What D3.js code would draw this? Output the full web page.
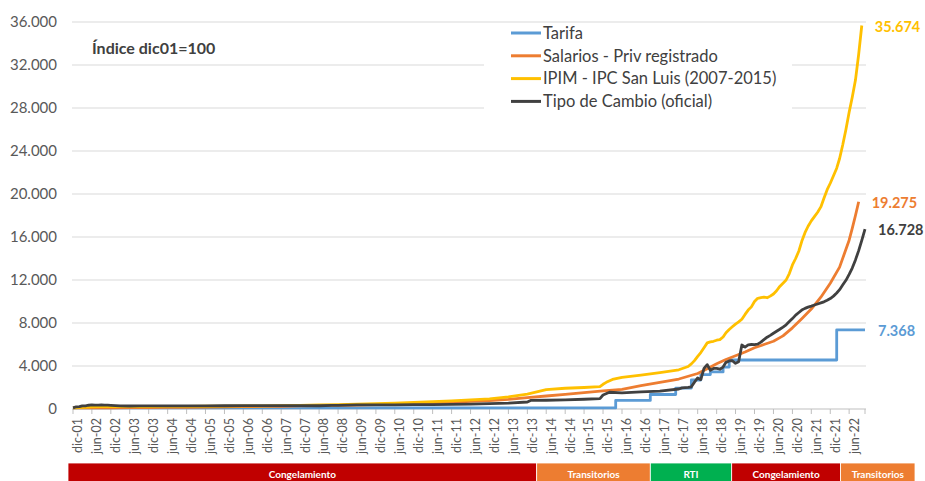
<!DOCTYPE html>
<html>
<head>
<meta charset="utf-8">
<script src="https://cdn.jsdelivr.net/npm/d3@7"></script>
<style>
  body { margin: 0; background: #fff; }
  svg { display: block; font-family: Lato, "Open Sans", sans-serif; }
</style>
</head>
<body>
<svg id="chart"></svg>
<script>
// series: [month, index value (dic01 = 100)]
const tarifa = [
    ["2001-12", 100], ["2016-04", 800], ["2017-03", 1350], ["2017-11", 1950],
    ["2018-04", 2700], ["2018-07", 3200], ["2018-10", 3450], ["2019-02", 3900],
    ["2019-04", 4560], ["2022-02", 7368], ["2022-11", 7368]
];

const salarios = [
    ["2001-12", 100], ["2002-06", 103], ["2002-12", 112], ["2003-06", 125], ["2003-12", 140],
    ["2004-06", 150], ["2004-12", 162], ["2005-06", 180], ["2005-12", 197], ["2006-06", 215],
    ["2006-12", 237], ["2007-06", 258], ["2007-12", 285], ["2008-06", 318], ["2008-12", 345],
    ["2009-06", 370], ["2009-12", 400], ["2010-06", 445], ["2010-12", 490], ["2011-06", 555],
    ["2011-12", 615], ["2012-06", 700], ["2012-12", 790], ["2013-06", 900], ["2013-12", 1050],
    ["2014-06", 1210], ["2014-12", 1360], ["2015-06", 1520], ["2015-12", 1690], ["2016-06", 1830],
    ["2016-12", 2180], ["2017-06", 2480], ["2017-12", 2790], ["2018-06", 3300], ["2018-09", 3750],
    ["2018-12", 4200], ["2019-03", 4600], ["2019-06", 4950], ["2019-09", 5300], ["2019-12", 5700],
    ["2020-03", 6000], ["2020-06", 6300], ["2020-09", 6800], ["2020-12", 7550], ["2021-03", 8400],
    ["2021-06", 9300], ["2021-09", 10400], ["2021-12", 11700], ["2022-03", 13200], ["2022-06", 15700],
    ["2022-07", 16800], ["2022-08", 18000], ["2022-09", 19275]
];

const ipim = [
    ["2001-12", 100], ["2002-03", 160], ["2002-06", 205], ["2002-09", 215], ["2002-12", 220],
    ["2003-06", 222], ["2003-12", 225], ["2004-06", 235], ["2004-12", 245], ["2005-06", 258],
    ["2005-12", 270], ["2006-06", 282], ["2006-12", 292], ["2007-06", 310], ["2007-12", 340],
    ["2008-06", 380], ["2008-12", 410], ["2009-06", 450], ["2009-12", 490], ["2010-06", 550],
    ["2010-12", 610], ["2011-06", 680], ["2011-12", 760], ["2012-06", 840], ["2012-12", 950],
    ["2013-06", 1130], ["2013-12", 1380], ["2014-06", 1800], ["2014-12", 1930], ["2015-06", 2000],
    ["2015-11", 2080], ["2015-12", 2300], ["2016-01", 2480], ["2016-03", 2750], ["2016-06", 2950],
    ["2016-12", 3150], ["2017-06", 3380], ["2017-12", 3650], ["2018-03", 3950], ["2018-04", 4200],
    ["2018-05", 4500], ["2018-06", 4900], ["2018-07", 5250], ["2018-08", 5700], ["2018-09", 6150],
    ["2018-10", 6250], ["2018-11", 6300], ["2018-12", 6400], ["2019-01", 6450], ["2019-02", 6700],
    ["2019-03", 7100], ["2019-04", 7400], ["2019-05", 7650], ["2019-06", 7900], ["2019-07", 8100],
    ["2019-08", 8350], ["2019-09", 8800], ["2019-10", 9200], ["2019-11", 9500], ["2019-12", 10000],
    ["2020-01", 10300], ["2020-02", 10350], ["2020-03", 10400], ["2020-04", 10350], ["2020-05", 10500],
    ["2020-06", 10700], ["2020-07", 11000], ["2020-08", 11400], ["2020-09", 11700], ["2020-10", 12000],
    ["2020-11", 12600], ["2020-12", 13400], ["2021-01", 14000], ["2021-02", 14700], ["2021-03", 15600],
    ["2021-04", 16400], ["2021-05", 17000], ["2021-06", 17500], ["2021-07", 17900], ["2021-08", 18300],
    ["2021-09", 18800], ["2021-10", 19600], ["2021-11", 20400], ["2021-12", 21000], ["2022-01", 21700],
    ["2022-02", 22400], ["2022-03", 23300], ["2022-04", 24600], ["2022-05", 26000], ["2022-06", 27600],
    ["2022-07", 29000], ["2022-08", 30600], ["2022-09", 33000], ["2022-10", 35674]
];

const tipoCambio = [
    ["2001-12", 100], ["2002-01", 205], ["2002-02", 215], ["2002-03", 295], ["2002-04", 290],
    ["2002-05", 350], ["2002-06", 380], ["2002-07", 365], ["2002-08", 360], ["2002-09", 370],
    ["2002-10", 355], ["2002-11", 355], ["2002-12", 337], ["2003-03", 298], ["2003-06", 280],
    ["2003-09", 291], ["2003-12", 293], ["2004-06", 296], ["2004-12", 297], ["2005-06", 289],
    ["2005-12", 303], ["2006-06", 308], ["2006-12", 306], ["2007-06", 309], ["2007-12", 315],
    ["2008-06", 303], ["2008-10", 340], ["2008-12", 345], ["2009-06", 379], ["2009-12", 380],
    ["2010-06", 393], ["2010-12", 398], ["2011-06", 411], ["2011-12", 430], ["2012-06", 452],
    ["2012-12", 492], ["2013-06", 539], ["2013-12", 652], ["2014-01", 800], ["2014-06", 813],
    ["2014-12", 855], ["2015-06", 909], ["2015-11", 967], ["2015-12", 1300], ["2016-02", 1560],
    ["2016-06", 1500], ["2016-12", 1585], ["2017-06", 1660], ["2017-12", 1860], ["2018-01", 1970],
    ["2018-03", 2010], ["2018-04", 2060], ["2018-05", 2500], ["2018-06", 2890], ["2018-07", 2730],
    ["2018-08", 3770], ["2018-09", 4125], ["2018-10", 3600], ["2018-11", 3770], ["2018-12", 3770],
    ["2019-01", 3700], ["2019-02", 3900], ["2019-03", 4340], ["2019-04", 4470], ["2019-05", 4490],
    ["2019-06", 4250], ["2019-07", 4390], ["2019-08", 5950], ["2019-09", 5760], ["2019-10", 5970],
    ["2019-11", 6000], ["2019-12", 5990], ["2020-01", 6030], ["2020-02", 6220], ["2020-03", 6450],
    ["2020-04", 6680], ["2020-05", 6850], ["2020-06", 7050], ["2020-07", 7230], ["2020-08", 7420],
    ["2020-09", 7620], ["2020-10", 7830], ["2020-11", 8130], ["2020-12", 8410], ["2021-01", 8730],
    ["2021-02", 8980], ["2021-03", 9200], ["2021-04", 9360], ["2021-05", 9480], ["2021-06", 9570],
    ["2021-07", 9670], ["2021-08", 9770], ["2021-09", 9870], ["2021-10", 9970], ["2021-11", 10110],
    ["2021-12", 10270], ["2022-01", 10500], ["2022-02", 10790], ["2022-03", 11100], ["2022-04", 11550],
    ["2022-05", 11970], ["2022-06", 12520], ["2022-07", 13110], ["2022-08", 13870], ["2022-09", 14730],
    ["2022-10", 15690], ["2022-11", 16728]
];

const seriesNames = ["Tarifa", "Salarios - Priv registrado", "IPIM - IPC San Luis (2007-2015)", "Tipo de Cambio (oficial)"];
const yTicks = [0, 4000, 8000, 12000, 16000, 20000, 24000, 28000, 32000, 36000];

// regulatory periods shown in the bottom band
const periodLabels = ["Congelamiento", "Transitorios", "RTI", "Congelamiento", "Transitorios"];
const periodStarts = ["2001-12-01", "2014-03-01", "2017-03-01", "2019-04-25", "2022-03-10"];
const periodEnds = ["2014-03-01", "2017-03-01", "2019-04-25", "2022-03-10", "2022-11-01"];

const width = 925;
const height = 481;
const svg = d3.select("#chart")
    .attr("width", width)
    .attr("height", height);

const colors = ["#5B9BD5", "#ED7D31", "#FFC000", "#404040"];
const parseMonth = d3.timeParse("%Y-%m");
const parseDay = d3.timeParse("%Y-%m-%d");

const es = d3.timeFormatLocale({
    dateTime: "%x, %X", date: "%d/%m/%Y", time: "%H:%M:%S", periods: ["AM", "PM"],
    days: ["domingo", "lunes", "martes", "miércoles", "jueves", "viernes", "sábado"],
    shortDays: ["dom", "lun", "mar", "mié", "jue", "vie", "sáb"],
    months: ["enero", "febrero", "marzo", "abril", "mayo", "junio", "julio", "agosto", "septiembre", "octubre", "noviembre", "diciembre"],
    shortMonths: ["ene", "feb", "mar", "abr", "may", "jun", "jul", "ago", "sep", "oct", "nov", "dic"]
});
const fmtMonth = es.format("%b-%y");
const fmtNum = d3.formatLocale({ decimal: ",", thousands: ".", grouping: [3], currency: ["$", ""] }).format(",.0f");

const start = parseMonth("2001-12");
const end = parseMonth("2022-11");

const x = d3.scaleTime()
    .domain([start, end])
    .range([73, 865]);

const y = d3.scaleLinear()
    .domain([0, 36000])
    .range([409, 22]);

// gridlines + y labels
svg.append("g")
    .selectAll("line")
    .data(yTicks.slice(1))
    .enter()
    .append("line")
    .attr("x1", 72)
    .attr("x2", 866)
    .attr("y1", d => y(d))
    .attr("y2", d => y(d))
    .attr("stroke", "#d9d9d9")
    .attr("stroke-width", 1);

svg.append("g")
    .selectAll("text")
    .data(yTicks)
    .enter()
    .append("text")
    .attr("x", 57)
    .attr("y", d => y(d))
    .attr("dy", "0.35em")
    .attr("text-anchor", "end")
    .attr("fill", "#595959")
    .style("font-size", "15px")
    .text(d => fmtNum(d));

// x axis
const xTicks = d3.timeMonth.range(start, end, 6);
const xAxis = svg.append("g");
xAxis.append("line")
    .attr("x1", 72)
    .attr("x2", 866)
    .attr("y1", y(0))
    .attr("y2", y(0))
    .attr("stroke", "#bfbfbf");
xAxis.selectAll(".tick")
    .data(xTicks.concat([end]))
    .enter()
    .append("line")
    .attr("x1", d => x(d))
    .attr("x2", d => x(d))
    .attr("y1", y(0))
    .attr("y2", y(0) + 5)
    .attr("stroke", "#bfbfbf");
xAxis.selectAll("text")
    .data(xTicks)
    .enter()
    .append("text")
    .attr("transform", d => `translate(${x(d) + 5},418) rotate(-90)`)
    .attr("dy", "0.35em")
    .attr("text-anchor", "end")
    .attr("fill", "#595959")
    .style("font-size", "12.5px")
    .text(d => fmtMonth(d));

// legend box (hides gridlines behind it)
const legend = svg.append("g");
legend.append("rect")
    .attr("x", 484)
    .attr("y", 25)
    .attr("width", 308)
    .attr("height", 88)
    .attr("fill", "#fff");
seriesNames.forEach((name, i) => {
    const ly = 33 + i * 22.8;
    legend.append("line")
        .attr("x1", 511).attr("x2", 541)
        .attr("y1", ly).attr("y2", ly)
        .attr("stroke", colors[i])
        .attr("stroke-width", 3);
    legend.append("text")
        .attr("x", 543)
        .attr("y", ly)
        .attr("dy", "0.35em")
        .attr("fill", "#404040")
        .style("font-size", "16.5px")
        .text(name);
});

svg.append("text")
    .attr("x", 92)
    .attr("y", 48)
    .attr("dy", "0.35em")
    .attr("fill", "#404040")
    .style("font-size", "16px")
    .style("font-weight", "bold")
    .text("Índice dic01=100");

// lines
const allSeries = [tarifa, salarios, ipim, tipoCambio];
allSeries.forEach((s, i) => {
    const pts = s.map(d => ({ date: parseMonth(d[0]), value: d[1] }));
    const line = d3.line()
        .x(d => x(d.date))
        .y(d => y(d.value))
        .curve(i === 0 ? d3.curveStepAfter : d3.curveLinear);
    svg.append("path")
        .datum(pts)
        .attr("d", line)
        .attr("fill", "none")
        .attr("stroke", colors[i])
        .attr("stroke-width", 2.8)
        .attr("stroke-linejoin", "round");

    const last = pts[pts.length - 1];
    svg.append("text")
        .attr("x", x(last.date) + 13)
        .attr("y", y(last.value) + 1)
        .attr("dy", "0.35em")
        .attr("fill", colors[i])
        .style("font-size", "14.5px")
        .style("font-weight", "bold")
        .text(fmtNum(last.value));
});

// period band
const bandColors = { "Congelamiento": "#C00000", "Transitorios": "#ED7D31", "RTI": "#00B050" };
const band = svg.append("g");
periodLabels.forEach((label, i) => {
    const x0 = i === 0 ? x(parseDay(periodStarts[i])) - 5 : x(parseDay(periodStarts[i]));
    const x1 = i === periodLabels.length - 1 ? 915 : x(parseDay(periodEnds[i]));
    band.append("rect")
        .attr("x", x0)
        .attr("y", 463)
        .attr("width", x1 - x0)
        .attr("height", 20)
        .attr("fill", bandColors[label])
        .attr("stroke", "#fff")
        .attr("stroke-width", 0.8);
    band.append("text")
        .attr("x", (x0 + x1) / 2)
        .attr("y", 474)
        .attr("dy", "0.35em")
        .attr("text-anchor", "middle")
        .attr("fill", "#fff")
        .style("font-size", "10px")
        .style("font-weight", "bold")
        .text(label);
});
</script>
</body>
</html>
